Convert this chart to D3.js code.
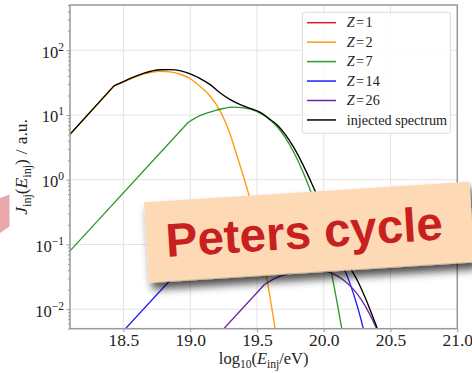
<!DOCTYPE html>
<html>
<head>
<meta charset="utf-8">
<script src="https://cdn.jsdelivr.net/npm/d3@7"></script>
<style>
  html, body { margin: 0; padding: 0; background: #ffffff; }
  svg { display: block; }
</style>
</head>
<body>
<svg id="chart" width="472" height="373"></svg>
<script>
// ---- injected spectra per species: log10(E/eV) samples and flux (a.u.) ----
// The first two samples of each species bound the low-energy power law,
// the rest trace the smooth turnover and cut-off.
// protons: no component inside the plotted range
const energyZ1 = [];
const fluxZ1 = [];

const energyZ2 = [18.10, 18.429, 18.50, 18.574, 18.65, 18.774, 18.85, 18.93, 19.00, 19.075,
                  19.15, 19.225, 19.30, 19.335, 19.40, 19.44, 19.50, 19.55, 19.58, 19.635, 19.67];
const fluxZ2 = [4.99, 27.8, 32.1, 37.5, 42.7, 47.4, 46.3, 42.2, 36.3, 27.5,
                19.5, 11.5, 5.01, 2.95, 1.10, 0.575, 0.174, 0.055, 0.0251, 0.00513, 0.00178];

const energyZ7 = [18.10, 18.986, 19.03, 19.073, 19.148, 19.20, 19.25, 19.323, 19.40, 19.498,
                  19.57, 19.648, 19.71, 19.772, 19.847, 19.897, 19.95, 20.00, 20.06, 20.134, 20.18];
const fluxZ7 = [0.0796, 7.73, 8.81, 9.79, 11.1, 11.9, 12.6, 13.2, 12.9, 11.4,
                9.33, 6.70, 4.57, 2.75, 1.28, 0.705, 0.324, 0.132, 0.0343, 0.00515, 0.00141];

const energyZ14 = [18.40, 19.287, 19.331, 19.374, 19.449, 19.501, 19.551, 19.624, 19.701, 19.799,
                   19.871, 19.949, 20.011, 20.073, 20.148, 20.198, 20.251, 20.301, 20.361, 20.435];
const fluxZ14 = [0.00276, 0.268, 0.305, 0.339, 0.385, 0.413, 0.437, 0.458, 0.447, 0.395,
                 0.323, 0.232, 0.158, 0.0953, 0.0444, 0.0244, 0.0112, 0.00458, 0.00119, 0.000179];

const energyZ26 = [18.67, 19.556, 19.60, 19.643, 19.718, 19.77, 19.82, 19.893, 19.97, 20.068,
                   20.14, 20.218, 20.28, 20.342, 20.417, 20.467, 20.52, 20.57, 20.63];
const fluxZ26 = [0.000248, 0.0241, 0.0274, 0.0305, 0.0345, 0.0370, 0.0392, 0.0411, 0.0401, 0.0355,
                 0.0290, 0.0208, 0.0142, 0.00856, 0.00398, 0.00219, 0.00101, 0.000411, 0.000107];

const energyTotal = [18.10, 18.429, 18.50, 18.574, 18.65, 18.774, 18.85, 18.93, 19.00, 19.075,
                     19.15, 19.225, 19.30, 19.375, 19.45, 19.525, 19.59, 19.648, 19.71, 19.772,
                     19.872, 19.935, 20.00, 20.06, 20.10, 20.15, 20.209, 20.25, 20.30, 20.35,
                     20.40, 20.45];
const fluxTotal = [5.05, 28.2, 32.7, 38.6, 44.1, 50.0, 50.1, 48.0, 43.2, 36.5,
                   29.4, 21.9, 17.3, 14.5, 12.6, 11.0, 8.8, 7.11, 5.05, 3.25,
                   1.30, 0.67, 0.340, 0.176, 0.118, 0.0745, 0.0400, 0.0282, 0.0169, 0.0095,
                   0.0051, 0.0027];

const xTicks = [18.5, 19.0, 19.5, 20.0, 20.5, 21.0];
const yTickExponents = [-2, -1, 0, 1, 2];
const legendCharges = ["1", "2", "7", "14", "26"];
const legendTotalLabel = "injected spectrum";
const stickerText = "Peters cycle";

// ---- layout ----
const plot = { left: 70, top: 5, right: 457.3, bottom: 328.7 };
const serif = "'Liberation Serif', 'DejaVu Serif', serif";

const svg = d3.select("#chart");

const x = d3.scaleLinear().domain([18.1, 21.0]).range([plot.left, plot.right]);
const y = d3.scaleLog().domain([0.005, 500]).range([plot.bottom, plot.top]);

const series = [
  { charge: legendCharges[0], color: "#d0202a", e: energyZ1,  f: fluxZ1 },
  { charge: legendCharges[1], color: "#ff9a10", e: energyZ2,  f: fluxZ2 },
  { charge: legendCharges[2], color: "#2a9a2a", e: energyZ7,  f: fluxZ7 },
  { charge: legendCharges[3], color: "#1f1fff", e: energyZ14, f: fluxZ14 },
  { charge: legendCharges[4], color: "#6a26a8", e: energyZ26, f: fluxZ26 },
  { charge: null,             color: "#000000", e: energyTotal, f: fluxTotal }
];

// ---- defs: clip + shadow ----
const defs = svg.append("defs");
defs.append("clipPath").attr("id", "plotClip")
  .append("rect")
  .attr("x", plot.left).attr("y", plot.top)
  .attr("width", plot.right - plot.left).attr("height", plot.bottom - plot.top);

const shadow = defs.append("filter").attr("id", "stickerShadow")
  .attr("x", "-10%").attr("y", "-20%").attr("width", "130%").attr("height", "160%");
shadow.append("feDropShadow")
  .attr("dx", 3).attr("dy", 7).attr("stdDeviation", 4.5)
  .attr("flood-color", "#000").attr("flood-opacity", 0.7);

// ---- grid ----
const yMajors = yTickExponents.map(k => Math.pow(10, k));
const grid = svg.append("g").attr("stroke", "#e4e4e4").attr("stroke-width", 1);
grid.selectAll("line.v").data(xTicks).join("line")
  .attr("x1", d => x(d)).attr("x2", d => x(d))
  .attr("y1", plot.top).attr("y2", plot.bottom);
grid.selectAll("line.h").data(yMajors).join("line")
  .attr("x1", plot.left).attr("x2", plot.right)
  .attr("y1", d => y(d)).attr("y2", d => y(d));

// ---- curves: straight power law up to the break, smooth turnover after ----
const powerLaw = d3.line().x(d => x(d[0])).y(d => y(d[1]));
const turnover = d3.line().x(d => x(d[0])).y(d => y(d[1])).curve(d3.curveMonotoneX);

const curves = svg.append("g").attr("clip-path", "url(#plotClip)");
series.forEach(s => {
  const pts = s.e.map((e, i) => [e, s.f[i]]);
  if (!pts.length) return;
  const d = powerLaw(pts.slice(0, 2)) + turnover(pts.slice(1)).replace(/^M[^A-Za-z]*/, m => "L" + m.slice(1));
  curves.append("path")
    .attr("d", d)
    .attr("fill", "none")
    .attr("stroke", s.color)
    .attr("stroke-width", 1.35)
    .attr("stroke-linejoin", "round");
});

// ---- spines ----
svg.append("rect")
  .attr("x", plot.left).attr("y", plot.top)
  .attr("width", plot.right - plot.left).attr("height", plot.bottom - plot.top)
  .attr("fill", "none").attr("stroke", "#999").attr("stroke-width", 1.5);

// ---- axes ----
const xAxis = d3.axisBottom(x).tickValues(xTicks).tickFormat(d3.format(".1f"))
  .tickSize(3.5).tickPadding(1.5);
const gx = svg.append("g").attr("transform", `translate(0,${plot.bottom})`).call(xAxis);
gx.select(".domain").remove();
gx.selectAll(".tick line").attr("stroke", "#999");
gx.selectAll(".tick text")
  .attr("font-family", serif).attr("font-size", 17.5).attr("fill", "#222");

const yAxis = d3.axisLeft(y).tickValues(yMajors).tickSize(3.5).tickPadding(2.5);
const gy = svg.append("g").attr("transform", `translate(${plot.left},0)`).call(yAxis);
gy.select(".domain").remove();
gy.selectAll(".tick line").attr("stroke", "#999");
gy.selectAll(".tick text")
  .attr("font-family", serif).attr("font-size", 16.5).attr("fill", "#222")
  .attr("dy", "0.42em")
  .each(function (d) {
    const t = d3.select(this);
    const k = Math.round(Math.log10(d));
    t.text(null);
    t.append("tspan").text("10");
    t.append("tspan").attr("dy", -7).attr("font-size", 11.5)
      .text(k < 0 ? "\u2212" + Math.abs(k) : String(k));
  });

// minor ticks on the log axis
const yMinors = [];
for (let k = -3; k <= 2; k++) {
  for (let m = 2; m <= 9; m++) {
    const v = m * Math.pow(10, k);
    if (v >= 0.005 && v <= 500) yMinors.push(v);
  }
}
const gyMinor = svg.append("g").attr("transform", `translate(${plot.left},0)`)
  .call(d3.axisLeft(y).tickValues(yMinors).tickSize(2).tickFormat(""));
gyMinor.select(".domain").remove();
gyMinor.selectAll(".tick line").attr("stroke", "#999");

// ---- axis labels ----
const xl = svg.append("text")
  .attr("x", (plot.left + plot.right) / 2).attr("y", 363.5)
  .attr("text-anchor", "middle")
  .attr("font-family", serif).attr("font-size", 16.5).attr("fill", "#222");
xl.append("tspan").text("log");
xl.append("tspan").attr("dy", 4).attr("font-size", 11.5).text("10");
xl.append("tspan").attr("dy", -4).text("(");
xl.append("tspan").attr("font-style", "italic").text("E");
xl.append("tspan").attr("dy", 4).attr("font-size", 11.5).text("inj");
xl.append("tspan").attr("dy", -4).text("/eV)");

const yl = svg.append("text")
  .attr("transform", `translate(26.5,${(plot.top + plot.bottom) / 2}) rotate(-90)`)
  .attr("text-anchor", "middle")
  .attr("font-family", serif).attr("font-size", 17.5).attr("fill", "#222");
yl.append("tspan").attr("font-style", "italic").text("J");
yl.append("tspan").attr("dy", 4).attr("font-size", 12).text("inj");
yl.append("tspan").attr("dy", -4).text("(");
yl.append("tspan").attr("font-style", "italic").text("E");
yl.append("tspan").attr("dy", 4).attr("font-size", 12).text("inj");
yl.append("tspan").attr("dy", -4).text(")");
yl.append("tspan").attr("dx", 5).text("/");
yl.append("tspan").attr("dx", 5).text("a.u.");

// ---- legend ----
const lg = svg.append("g").attr("transform", "translate(302.3,12.3)");
lg.append("rect")
  .attr("width", 148).attr("height", 121).attr("rx", 2)
  .attr("fill", "#fff").attr("fill-opacity", 0.85)
  .attr("stroke", "#dcdcdc").attr("stroke-width", 1);
series.forEach((s, i) => {
  const ry = 10.4 + i * 19.45;
  lg.append("line")
    .attr("x1", 4.7).attr("x2", 33.7).attr("y1", ry).attr("y2", ry)
    .attr("stroke", s.color).attr("stroke-width", 1.5);
  const t = lg.append("text")
    .attr("x", 44.4).attr("y", ry + 4.8)
    .attr("font-family", serif).attr("font-size", 14.2).attr("fill", "#222");
  if (s.charge !== null) {
    t.append("tspan").attr("font-style", "italic").text("Z");
    t.append("tspan").attr("dx", 1.5).text("=");
    t.append("tspan").attr("dx", 1.5).text(s.charge);
  } else {
    t.text(legendTotalLabel);
  }
});

// ---- stickers ----
svg.append("polygon")
  .attr("points", [[0, 198], [9.5, 194.5], [9.5, 226.5], [0, 233]].map(p => p.join(",")).join(" "))
  .attr("fill", "#eba8aa");

const sticker = svg.append("g")
  .attr("transform", "translate(144,202.3) rotate(-3.63)");
sticker.append("rect")
  .attr("width", 326).attr("height", 80.5)
  .attr("fill", "#fddab5")
  .attr("filter", "url(#stickerShadow)");
sticker.append("text")
  .attr("x", 158).attr("y", 56)
  .attr("text-anchor", "middle")
  .attr("font-family", "'Liberation Sans', Arial, sans-serif")
  .attr("font-weight", "bold")
  .attr("font-size", 47.5)
  .attr("fill", "#c8201f")
  .text(stickerText);
</script>
</body>
</html>
